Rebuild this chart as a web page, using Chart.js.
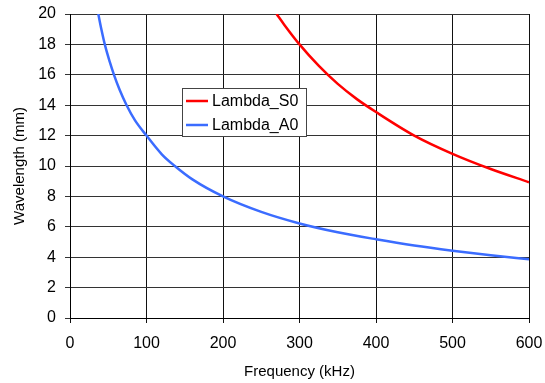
<!DOCTYPE html>
<html lang="en">
<head>
    <meta charset="UTF-8">
    <title>Wavelength</title>
    <script src="https://cdn.jsdelivr.net/npm/chart.js"></script>
    <style>
        body { margin: 0; background: #fff; }
        #wrap { width: 545px; height: 383px; }
    </style>
</head>
<body>
<div id="wrap"><canvas id="myChart" width="545" height="383"></canvas></div>
<script>
    // dados
    var freqS0 = [270, 280, 300, 325, 350, 375, 400, 450, 500, 550, 600];
    var lambdaS0 = [20, 19.3, 18.0, 16.6, 15.4, 14.4, 13.55, 12.0, 10.8, 9.8, 8.93];

    var freqA0 = [37, 41, 46, 52, 57.5, 65, 74, 85, 100, 120, 137, 160, 200, 250, 300, 350, 400, 450, 500, 550, 600];
    var lambdaA0 = [20, 19.0, 17.9, 16.85, 16.0, 15.0, 14.0, 13.0, 12.0, 10.77, 10.0, 9.12, 8.0, 6.98, 6.22, 5.64, 5.18, 4.77, 4.43, 4.13, 3.86];

    var xTicks = [0, 100, 200, 300, 400, 500, 600];
    var yTicks = [0, 2, 4, 6, 8, 10, 12, 14, 16, 18, 20];

    function pontos(xs, ys) {
        var arr = [];
        for (let i = 0; i < xs.length; i++) arr.push({ x: xs[i], y: ys[i] });
        return arr;
    }

    // legenda dentro da area do grafico
    const legendaBox = {
        id: 'legendaBox',
        afterDraw(chart) {
            const ctx = chart.ctx;
            const x0 = 182, y0 = 88, w = 124, h = 48;
            ctx.save();
            ctx.fillStyle = '#fff';
            ctx.fillRect(x0, y0, w, h);
            ctx.strokeStyle = '#444';
            ctx.lineWidth = 1;
            ctx.strokeRect(x0 + 0.5, y0 + 0.5, w, h);
            ctx.font = '16px "Liberation Sans", Arial, sans-serif';
            ctx.textBaseline = 'middle';
            chart.data.datasets.forEach((ds, i) => {
                const yy = y0 + 13 + i * 24;
                ctx.strokeStyle = ds.borderColor;
                ctx.lineWidth = 2.5;
                ctx.beginPath();
                ctx.moveTo(x0 + 4, yy);
                ctx.lineTo(x0 + 26, yy);
                ctx.stroke();
                ctx.fillStyle = '#000';
                ctx.fillText(ds.label, x0 + 30, yy + 1);
            });
            ctx.restore();
        }
    };

    const fonte = { family: '"Liberation Sans", Arial, sans-serif', size: 16 };

    new Chart(document.getElementById('myChart'), {
        type: 'line',
        data: {
            datasets: [{
                label: 'Lambda_S0',
                data: pontos(freqS0, lambdaS0),
                borderColor: '#ff0000',
                borderWidth: 2.5,
                pointRadius: 0,
                cubicInterpolationMode: 'monotone',
                fill: false
            },
            {
                label: 'Lambda_A0',
                data: pontos(freqA0, lambdaA0),
                borderColor: '#3b6cff',
                borderWidth: 2.5,
                pointRadius: 0,
                cubicInterpolationMode: 'monotone',
                fill: false
            }]
        },
        options: {
            responsive: false,
            animation: false,
            layout: { padding: { top: 14, right: 16, left: 0, bottom: 0 } },
            plugins: {
                legend: { display: false },
                tooltip: { enabled: false }
            },
            scales: {
                x: {
                    type: 'linear',
                    min: 0,
                    max: 600,
                    afterBuildTicks: (s) => { s.ticks = xTicks.map(v => ({ value: v })); },
                    afterFit: (s) => { s.height = 65; s.paddingLeft = 0; s.paddingRight = 0; },
                    ticks: { color: '#000', font: fonte, padding: 11, maxRotation: 0 },
                    grid: { color: '#111', lineWidth: 1, tickLength: 5 },
                    border: { color: '#000', width: 1 },
                    title: {
                        display: true,
                        text: 'Frequency (kHz)',
                        color: '#000',
                        font: { family: fonte.family, size: 15 },
                        padding: { top: 0, bottom: 2 }
                    }
                },
                y: {
                    min: 0,
                    max: 20,
                    afterBuildTicks: (s) => { s.ticks = yTicks.map(v => ({ value: v })); },
                    afterFit: (s) => { s.width = 70; s.paddingTop = 0; s.paddingBottom = 0; },
                    ticks: { color: '#000', font: fonte, padding: 9 },
                    grid: { color: '#333', lineWidth: 1, tickLength: 5 },
                    border: { color: '#000', width: 1 },
                    title: {
                        display: true,
                        text: 'Wavelength (mm)',
                        color: '#000',
                        font: { family: fonte.family, size: 15 },
                        padding: { top: 11, bottom: 0 }
                    }
                }
            }
        },
        plugins: [legendaBox]
    });
</script>
</body>
</html>
